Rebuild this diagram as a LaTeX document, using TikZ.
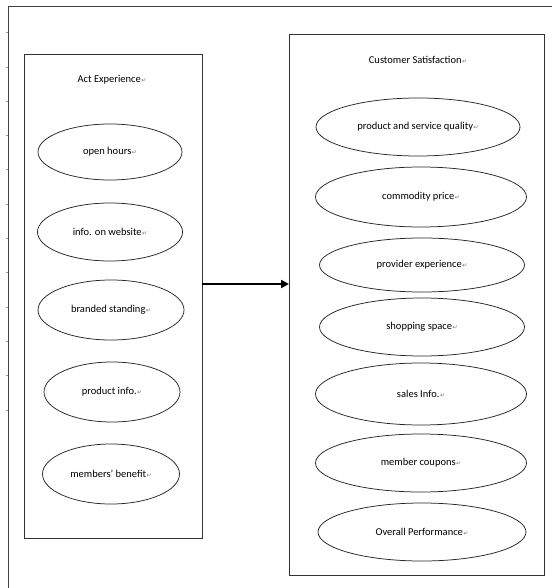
\documentclass[tikz,border=0pt]{standalone}
\usepackage{fontspec}
\setmainfont{Carlito}
\newfontfamily\symfont{DejaVu Sans}
\usetikzlibrary{shapes.geometric,arrows.meta}
\newcommand\retmark{\hspace{0.5pt}{\symfont\fontsize{6}{6}\selectfont\color{black!55}↵}}
\begin{document}
\begin{tikzpicture}[x=1pt,y=-1pt,
  frame/.style={draw=black!75,line width=0.9pt},
  groupbox/.style={draw=black!80,line width=0.9pt,inner sep=0pt,fill=none},
  oval/.style={ellipse,draw=black!85,line width=0.75pt,inner sep=0pt,
    font=\fontsize{10.5}{12}\selectfont,text=black},
  title/.style={font=\fontsize{10.5}{12}\selectfont,text=black,inner sep=0pt},
  tick/.style={draw=black!40,line width=0.5pt}]
\useasboundingbox (0,0) rectangle (552,588);
\fill[white] (0,0) rectangle (552,588);
% outer frame
\coordinate (o1) at (8,588);
\coordinate (o2) at (8,6);
\coordinate (o3) at (552,6);
\draw[frame] (o1) -- (o2) -- (o3);
\foreach \t in {32,67,101,135,169,204,238,272,307,341,375,410}
  \draw[tick] (5.5,\t) -- (8,\t);
% left group
\node[groupbox,minimum width=178pt,minimum height=484pt] (lbox) at (113,296) {};
\node[title] (ltitle) at (112,80) {Act Experience\retmark};
\node[oval,minimum width=144pt,minimum height=56pt] (l1) at (110,152) {open hours\retmark};
\node[oval,minimum width=145pt,minimum height=58pt] (l2) at (110,232) {info. on website\retmark};
\node[oval,minimum width=146pt,minimum height=60pt] (l3) at (111,310) {branded standing\retmark};
\node[oval,minimum width=136pt,minimum height=60pt] (l4) at (112,392) {product info.\retmark};
\node[oval,minimum width=137pt,minimum height=60pt] (l5) at (111,474) {members' benefit\retmark};
% right group
\node[groupbox,minimum width=255pt,minimum height=541pt] (rbox) at (416.5,304.5) {};
\node[title] (rtitle) at (418,60) {Customer Satisfaction\retmark};
\node[oval,minimum width=204pt,minimum height=58pt] (r1) at (418,127) {product and service quality\retmark};
\node[oval,minimum width=211pt,minimum height=60pt] (r2) at (421,197) {commodity price\retmark};
\node[oval,minimum width=205pt,minimum height=54pt] (r3) at (422,265) {provider experience\retmark};
\node[oval,minimum width=205pt,minimum height=58pt] (r4) at (422,327) {shopping space\retmark};
\node[oval,minimum width=211pt,minimum height=62pt] (r5) at (421,394) {sales Info.\retmark};
\node[oval,minimum width=211pt,minimum height=58pt] (r6) at (421,463) {member coupons\retmark};
\node[oval,minimum width=208pt,minimum height=58pt] (r7) at (422,532) {Overall Performance\retmark};
% connector
\coordinate (a1) at (202,284);
\coordinate (a2) at (289,284);
\draw[line width=2.2pt,-{Triangle[length=8pt,width=8pt]}] (a1) -- (a2);
\end{tikzpicture}
\end{document}
